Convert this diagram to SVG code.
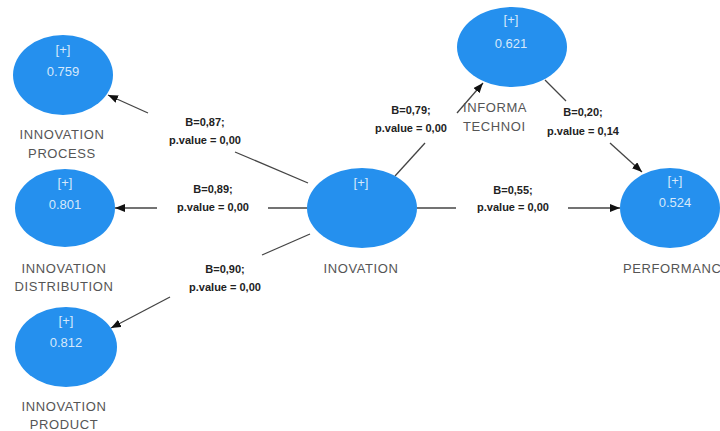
<svg xmlns="http://www.w3.org/2000/svg" width="720" height="431" viewBox="0 0 720 431">
<defs>
<marker id="ah" markerWidth="10" markerHeight="8" refX="10" refY="4" orient="auto" markerUnits="userSpaceOnUse">
<path d="M0,0 L10,4 L0,8 Z" fill="#111"/>
</marker>
<style>
.node{fill:#2590ee;}
.in{font-family:"Liberation Sans",Arial,sans-serif;font-size:13px;fill:#d6e8fb;text-anchor:middle;}
.lbl{font-family:"Liberation Sans",Arial,sans-serif;font-size:13px;fill:#555;text-anchor:middle;letter-spacing:0.6px;}
.el{font-family:"Liberation Sans",Arial,sans-serif;font-size:11px;font-weight:bold;fill:#222;text-anchor:middle;}
.ln{stroke:#444;stroke-width:1.3;fill:none;}
</style>
</defs>
<rect width="720" height="431" fill="#fff"/>
<g id="connectors">
<line class="ln" x1="308" y1="183" x2="235" y2="152"/>
<line class="ln" x1="148" y1="113" x2="108" y2="95" marker-end="url(#ah)"/>
<line class="ln" x1="307" y1="208" x2="268" y2="208"/>
<line class="ln" x1="157" y1="208" x2="115" y2="208" marker-end="url(#ah)"/>
<line class="ln" x1="310" y1="234" x2="262" y2="255"/>
<line class="ln" x1="170" y1="297" x2="111" y2="328" marker-end="url(#ah)"/>
<line class="ln" x1="395" y1="176" x2="425" y2="143"/>
<line class="ln" x1="457" y1="113" x2="483" y2="83" marker-end="url(#ah)"/>
<line class="ln" x1="545" y1="80" x2="566" y2="101"/>
<line class="ln" x1="610" y1="143" x2="642" y2="172" marker-end="url(#ah)"/>
<line class="ln" x1="417" y1="208" x2="456" y2="208"/>
<line class="ln" x1="568" y1="208" x2="620" y2="208" marker-end="url(#ah)"/>
<text class="el" x="205" y="126">B=0,87;</text>
<text class="el" x="205" y="144">p.value = 0,00</text>
<text class="el" x="213" y="193">B=0,89;</text>
<text class="el" x="213" y="211">p.value = 0,00</text>
<text class="el" x="225" y="273">B=0,90;</text>
<text class="el" x="225" y="291">p.value = 0,00</text>
<text class="el" x="411" y="114">B=0,79;</text>
<text class="el" x="411" y="132">p.value = 0,00</text>
<text class="el" x="583" y="116">B=0,20;</text>
<text class="el" x="583" y="135">p.value = 0,14</text>
<text class="el" x="513" y="194">B=0,55;</text>
<text class="el" x="513" y="211">p.value = 0,00</text>
</g>
<g id="innovation-process">
<ellipse class="node" cx="63" cy="75" rx="50" ry="40"/>
<text class="in" x="63" y="54">[+]</text>
<text class="in" x="63" y="76">0.759</text>
<text class="lbl" x="62" y="139">INNOVATION</text>
<text class="lbl" x="62" y="158">PROCESS</text>
</g>
<g id="innovation-distribution">
<ellipse class="node" cx="65" cy="208" rx="50" ry="39"/>
<text class="in" x="65" y="187">[+]</text>
<text class="in" x="65" y="209">0.801</text>
<text class="lbl" x="64" y="273">INNOVATION</text>
<text class="lbl" x="64" y="291">DISTRIBUTION</text>
</g>
<g id="innovation-product">
<ellipse class="node" cx="66" cy="347" rx="51" ry="40"/>
<text class="in" x="66" y="325">[+]</text>
<text class="in" x="66" y="347">0.812</text>
<text class="lbl" x="64" y="411">INNOVATION</text>
<text class="lbl" x="64" y="429">PRODUCT</text>
</g>
<g id="inovation">
<ellipse class="node" cx="362" cy="208" rx="55" ry="40"/>
<text class="in" x="361" y="187">[+]</text>
<text class="lbl" x="361" y="273">INOVATION</text>
</g>
<g id="information-technology">
<ellipse class="node" cx="512" cy="47" rx="55" ry="40"/>
<text class="in" x="511" y="24">[+]</text>
<text class="in" x="511" y="48">0.621</text>
<text class="lbl" x="463" y="112" style="text-anchor:start">INFORMA</text>
<text class="lbl" x="463" y="131" style="text-anchor:start">TECHNOI</text>
</g>
<g id="performance">
<ellipse class="node" cx="670" cy="208" rx="50" ry="40"/>
<text class="in" x="675" y="185">[+]</text>
<text class="in" x="675" y="207">0.524</text>
<text class="lbl" x="623" y="273" style="text-anchor:start">PERFORMANC</text>
</g>
</svg>
